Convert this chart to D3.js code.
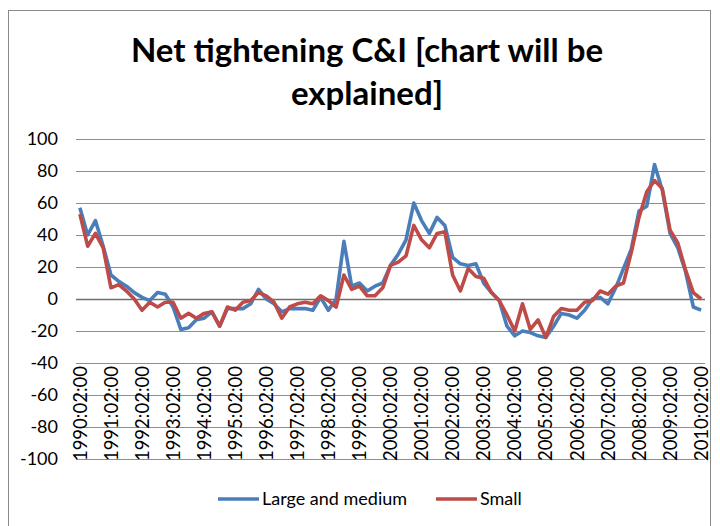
<!DOCTYPE html>
<html lang="en">
<head>
<meta charset="utf-8">
<title>Net tightening C&amp;I</title>
<script src="https://d3js.org/d3.v7.min.js"></script>
<style>
  body { margin: 0; background: #fff; }
  text { font-family: Lato, "Open Sans", sans-serif; fill: #000; }
  .grid line { stroke: #8e8e8e; stroke-width: 1; }
  .series { fill: none; stroke-width: 3.6; stroke-linejoin: round; }
</style>
</head>
<body>
<script>
// quarterly, 1990 Q1 .. 2010 Q1 (81 points)
const years = d3.range(1990, 2011);
const tickLabels = years.map(y => y + ":02:00");

const largeMedium = [57, 40, 49, 33, 15, 11, 8, 4, 1, -1, 4, 3, -5, -19, -18, -13,
  -12, -8, -17, -6, -6, -6, -3, 6, 0, -3, -8, -6, -6, -6, -7, 1,
  -7, 0, 36, 8, 10, 5, 8, 10, 21, 28, 37, 60, 49, 41, 51, 46,
  26, 22, 21, 22, 10, 4, -1, -17, -23, -20, -21, -23, -24, -17, -9, -10,
  -12, -7, 0, 1, -3, 7, 19, 31, 55, 58, 84, 68, 41, 32, 17, -5, -7];

const small = [53, 33, 41, 32, 7, 9, 5, 0, -7, -2, -5, -2, -2, -12, -9, -12,
  -9, -8, -17, -5, -7, -2, -1, 4, 2, -2, -12, -5, -3, -2, -3, 2,
  -1, -5, 15, 6, 8, 2, 2, 7, 21, 23, 27, 46, 37, 32, 41, 42,
  15, 5, 19, 14, 13, 4, -1, -10, -20, -3, -19, -13, -24, -11, -6, -7,
  -7, -2, -1, 5, 3, 8, 10, 29, 51, 67, 74, 69, 43, 35, 18, 4, 0];

const yTicks = d3.range(-100, 101, 20);

const W = 720, H = 526;
const svg = d3.select("body").append("svg")
  .attr("width", W).attr("height", H);

// chart frame
svg.append("rect")
  .attr("x", 8.5).attr("y", 10.5)
  .attr("width", 702).attr("height", 540)
  .attr("fill", "#fff").attr("stroke", "#8a8a8a");

// title
const title = svg.append("text")
  .attr("text-anchor", "middle")
  .style("font-weight", "bold").style("font-size", "33px");
title.append("tspan").attr("x", 367).attr("y", 62).text("Net tightening C&I [chart will be");
title.append("tspan").attr("x", 367).attr("y", 105).text("explained]");

const x = d3.scaleBand().domain(d3.range(largeMedium.length)).range([76, 705]);
const cx = i => x(i) + x.bandwidth() / 2;
const y = d3.scaleLinear().domain([-100, 100]).range([459, 139]);

// gridlines
svg.append("g").attr("class", "grid")
  .selectAll("line").data(yTicks).join("line")
  .attr("x1", 76).attr("x2", 705)
  .attr("y1", d => Math.round(y(d)) + 0.5).attr("y2", d => Math.round(y(d)) + 0.5)
  .style("stroke", d => d === 0 ? "#6e6e6e" : null)
  .style("stroke-width", d => d === 0 ? 1.6 : null);

// y axis labels
svg.append("g").selectAll("text").data(yTicks).join("text")
  .attr("x", 58).attr("y", d => y(d))
  .attr("dy", "0.36em")
  .attr("text-anchor", "end")
  .style("font-size", "18px")
  .text(d => d);

// x axis labels (every 4th quarter)
svg.append("g").selectAll("text").data(tickLabels).join("text")
  .attr("transform", (d, k) => `translate(${cx(k * 4)},366) rotate(-90)`)
  .attr("dy", "0.36em")
  .attr("text-anchor", "end")
  .style("font-size", "18.5px")
  .text(d => d);

// lines
const line = d3.line().x((d, i) => cx(i)).y(d => y(d));

svg.append("path")
  .attr("class", "series")
  .attr("stroke", "#4a7ebb")
  .attr("d", line(largeMedium));

svg.append("path")
  .attr("class", "series")
  .attr("stroke", "#be4b48")
  .attr("d", line(small));

// legend
const legend = [
  { name: "Large and medium", color: "#4a7ebb", x: 218 },
  { name: "Small", color: "#be4b48", x: 436 }
];
const lg = svg.append("g").selectAll("g").data(legend).join("g")
  .attr("transform", d => `translate(${d.x},499)`);
lg.append("line")
  .attr("x1", 0).attr("x2", 41)
  .attr("stroke", d => d.color).attr("stroke-width", 3.6);
lg.append("text")
  .attr("x", 44).attr("dy", "0.36em")
  .style("font-size", "18px")
  .text(d => d.name);
</script>
</body>
</html>
